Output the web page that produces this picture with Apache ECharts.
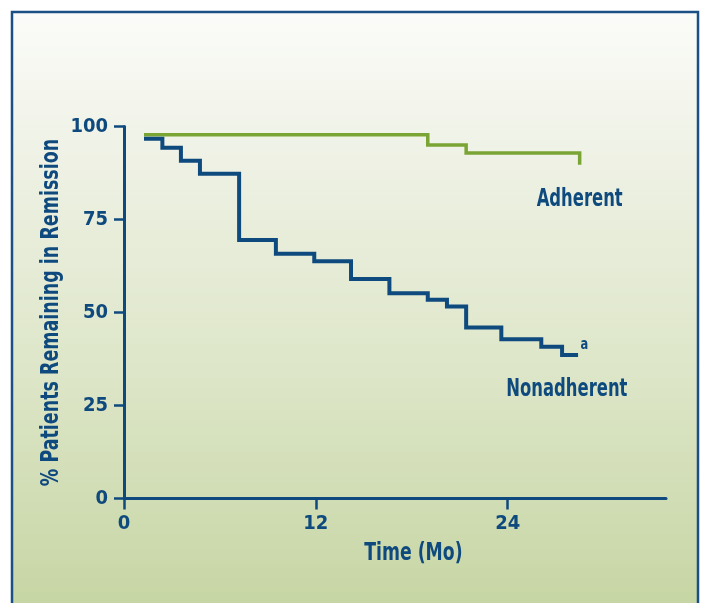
<!DOCTYPE html>
<html>
<head>
<meta charset="utf-8">
<script src="https://cdn.jsdelivr.net/npm/echarts@6/dist/echarts.min.js"></script>
<style>
html,body{margin:0;padding:0;background:#ffffff;}
#chart{width:702px;height:603px;}
</style>
</head>
<body>
<div id="chart"></div>
<script>
// Data (months, % in remission)
const nonadherentMonths = [1.25, 2.4, 3.56, 4.75, 7.2, 9.5, 11.9, 14.2, 16.6, 19.0, 20.2, 21.4, 23.6, 26.1, 27.4, 28.4];
const nonadherentPct    = [96.7, 94.3, 90.8, 87.3, 69.5, 65.8, 63.8, 59.0, 55.2, 53.4, 51.6, 46.0, 42.8, 40.8, 38.6, 38.6];
const adherentMonths = [1.25, 19.0, 21.4, 28.5, 28.5];
const adherentPct    = [97.8, 95.0, 92.9, 92.9, 89.7];
const xTicks = [0, 12, 24];
const yTicks = [0, 25, 50, 75, 100];
const xTitle = 'Time (Mo)';
const yTitle = '% Patients Remaining in Remission';

const BLUE = '#0f4a7e';
const GREEN = '#7aa535';
const FONT = "'DejaVu Sans Condensed', 'Liberation Sans', sans-serif";

const pairs = (xs, ys) => xs.map((x, i) => [x, ys[i]]);

const chart = echarts.init(document.getElementById('chart'), null, {renderer: 'canvas'});
chart.setOption({
  animation: false,
  backgroundColor: '#ffffff',
  textStyle: {fontFamily: FONT},
  graphic: [
    {id: 'bg', type: 'rect', z: -10, silent: true,
      shape: {x: 12, y: 12, width: 686, height: 600},
      style: {fill: new echarts.graphic.LinearGradient(0, 0, 0, 1, [
        {offset: 0, color: '#fbfcf9'},
        {offset: 0.25, color: '#eef1e4'},
        {offset: 0.6, color: '#dde6c8'},
        {offset: 1, color: '#c6d5a3'}
      ])}},
    {id: 'frame', type: 'polyline', z: -9, silent: true,
      shape: {points: [[12, 610], [12, 12], [698, 12], [698, 610]]},
      style: {stroke: '#1b4f86', lineWidth: 2.5, fill: null}}
  ],
  grid: {left: 124, right: 36, top: 126.5, bottom: 104.5, containLabel: false},
  xAxis: {
    type: 'value', min: 0, max: 33.9, interval: 12,
    axisLine: {show: true, onZero: false, lineStyle: {color: BLUE, width: 3}},
    axisTick: {show: true, length: 11, customValues: xTicks, lineStyle: {color: BLUE, width: 2.5}},
    axisLabel: {customValues: xTicks, color: BLUE, fontSize: 20, fontWeight: 'bold', fontFamily: FONT, margin: 15},
    splitLine: {show: false}
  },
  yAxis: {
    type: 'value', min: 0, max: 100, interval: 25,
    axisLine: {show: true, lineStyle: {color: BLUE, width: 3}},
    axisTick: {show: true, length: 10, lineStyle: {color: BLUE, width: 2.5}},
    axisLabel: {customValues: yTicks, color: BLUE, fontSize: 20, fontWeight: 'bold', fontFamily: FONT, margin: 16},
    splitLine: {show: false}
  },
  series: [
    {
      name: 'Adherent', type: 'line', step: 'end', showSymbol: false, symbol: 'none',
      data: pairs(adherentMonths, adherentPct),
      lineStyle: {color: GREEN, width: 3.5, cap: 'butt', join: 'miter'}
    },
    {
      name: 'Nonadherent', type: 'line', step: 'end', showSymbol: false, symbol: 'none',
      data: pairs(nonadherentMonths, nonadherentPct),
      lineStyle: {color: BLUE, width: 4, cap: 'butt', join: 'miter'}
    }
  ]
});

// Condensed-looking text labels placed through the chart's own scales
const px = (x, y) => chart.convertToPixel({gridIndex: 0}, [x, y]);
const textEl = (id, text, p, size, sx, rot) => ({
  id: id, type: 'text', z: 10, silent: true,
  x: p[0], y: p[1], rotation: rot || 0, scaleX: sx, scaleY: 1,
  style: {text: text, fill: BLUE, font: 'bold ' + size + 'px ' + FONT, align: 'center', verticalAlign: 'middle'}
});
const pA = px(28.5, 80.3);
const pN = px(27.7, 29.1);
const pa = px(28.8, 41.2);
const pX = px(18.1, 0);
const pY = px(0, 50);
chart.setOption({
  graphic: [
    textEl('lblAdh', 'Adherent', pA, 24, 0.76),
    textEl('lblNon', 'Nonadherent', pN, 24, 0.76),
    textEl('lblA', 'a', pa, 15, 0.85),
    textEl('xName', xTitle, [pX[0], pX[1] + 55], 24, 0.8),
    textEl('yName', yTitle, [pY[0] - 72, pY[1]], 24, 0.81, Math.PI / 2)
  ]
});
</script>
</body>
</html>
